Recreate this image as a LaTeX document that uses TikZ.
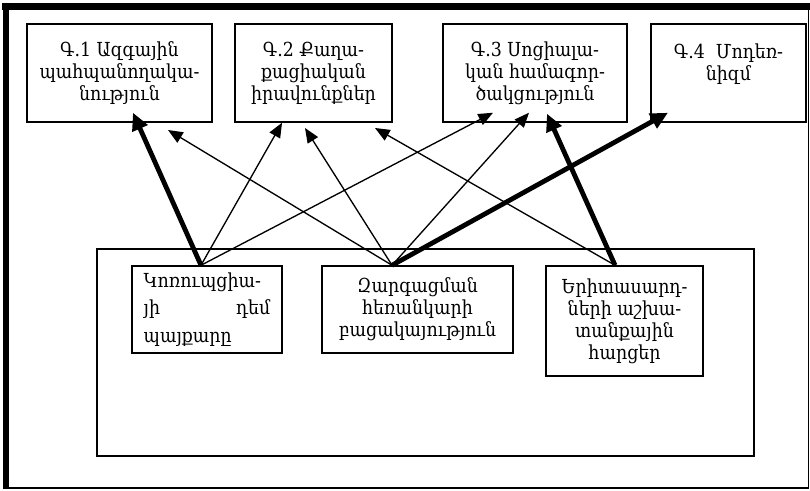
\documentclass[tikz,border=0pt]{standalone}
\usepackage{fontspec}
\setmainfont{DejaVu Serif Condensed}
\usepackage{tikz}
\usetikzlibrary{arrows.meta}

\begin{document}
\begin{tikzpicture}[x=0.75pt,y=-0.75pt,
                    font=\fontsize{14.5}{16.5}\selectfont]
  \tikzstyle{every node}=[draw=black,line width=1.1pt,inner sep=0pt,align=center]
  \tikzstyle{thin arrow}=[-{Triangle[length=11pt,width=9pt]},line width=1pt]
  \tikzstyle{thick arrow}=[-{Triangle[length=13pt,width=12pt]},line width=3.6pt]
  \useasboundingbox (0,0) rectangle (810,491);

  % outer frame
  \draw[line width=5.2pt] (2,6.5) -- (810,6.5);
  \draw[line width=5.2pt] (6,3) -- (6,489);
  \draw[line width=1.3pt] (808.5,3) -- (808.5,488) -- (3,488);

  % goals
  \node[minimum width=138.75pt,minimum height=73.5pt] (g1) at (119.5,73)
       {Գ.1 Ազգային\\պահպանողակա-\\նություն};
  \node[minimum width=117.75pt,minimum height=73.5pt] (g2) at (313.5,73)
       {Գ.2 Քաղա-\\քացիական\\իրավունքներ};
  \node[minimum width=138pt,minimum height=73.5pt] (g3) at (535,73)
       {Գ.3 Սոցիալա-\\կան համագոր-\\ծակցություն};
  \node[minimum width=116.25pt,minimum height=73.5pt] (g4) at (728.5,73)
       {Գ.4\ \ Մոդեռ-\\նիզմ\\~};

  % problems
  \node[minimum width=492.75pt,minimum height=155.25pt] (prob) at (425.5,352.5) {};
  \node[minimum width=112.5pt,minimum height=65.25pt] (kA) at (207,309.5)
       {\parbox{95pt}{\raggedright Կոռուպցիա-\\[4pt]յի\hfill դեմ\\[4pt]պայքարը}};
  \node[minimum width=143.25pt,minimum height=65.25pt] (kB) at (417.5,309.5)
       {Զարգացման\\հեռանկարի\\բացակայություն};
  \node[minimum width=117.75pt,minimum height=82.5pt] (kC) at (624.5,321)
       {Երիտասարդ-\\ների աշխա-\\տանքային\\հարցեր};

  \coordinate (pA) at (168,130);
  \coordinate (pB) at (305,128);
  \coordinate (pC) at (375,128);

  \path ([xshift=-4.5pt]kA.north) edge[thick arrow] ([xshift=10.1pt,yshift=7.5pt]g1.south)
        ([xshift=-4.5pt]kA.north) edge[thin arrow]  ([xshift=-23.6pt]g2.south)
        ([xshift=-4.5pt]kA.north) edge[thin arrow]  ([xshift=-31.5pt,yshift=7.5pt]g3.south)
        ([xshift=-19.1pt]kB.north) edge[thin arrow] (pA)
        ([xshift=-19.1pt]kB.north) edge[thin arrow] (pB)
        ([xshift=-19.1pt]kB.north) edge[thin arrow] ([xshift=-4.5pt,yshift=7.5pt]g3.south)
        ([xshift=-19.1pt]kB.north) edge[thick arrow] ([xshift=-45.4pt,yshift=7.5pt]g4.south)
        ([xshift=-7.1pt]kC.north) edge[thin arrow]  (pC)
        ([xshift=-7.1pt]kC.north) edge[thick arrow] ([xshift=9pt,yshift=6.75pt]g3.south);
\end{tikzpicture}
\end{document}
